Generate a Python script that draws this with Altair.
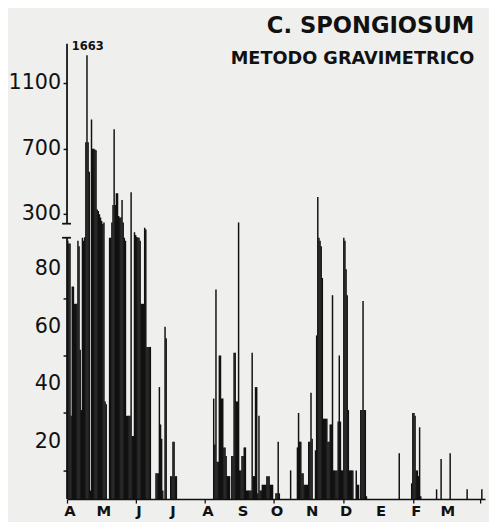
import altair as alt
import pandas as pd

# daily values (day 0 = 1 April)
april = [90, 89, 89, 29, 74, 74, 68, 68, 68, 90, 88, 52, 31, 92, 90, 96, 740, 1663, 740, 560,
         3, 878, 700, 700, 695, 690, 330, 320, 300, 280]
may = [260, 240, 250, 34, 33, 0, 0, 92, 92, 250, 357, 818, 357, 429, 429, 290, 280, 280, 387, 250,
       92, 90, 29, 29, 29, 29, 435, 22, 22, 150, 120]
june = [100, 95, 92, 90, 68, 68, 68, 200, 180, 53, 53, 53, 53, 0, 0, 0, 0, 9, 9, 9,
        39, 26, 21, 3, 0, 60, 56, 0, 0, 0]
july = [8, 8, 20, 20, 8, 8, 0, 0, 0, 0, 0, 0, 0, 0, 0, 0, 0, 0, 0, 0,
        0, 0, 0, 0, 0, 0, 0, 0, 0, 0, 0]
august = [0, 0, 0, 0, 0, 0, 0, 35, 19, 73, 13, 13, 50, 50, 35, 35, 18, 18, 15, 8,
          8, 8, 0, 15, 15, 51, 51, 34, 34, 250, 10]
september = [10, 15, 15, 18, 18, 3, 3, 3, 3, 3, 51, 8, 8, 39, 39, 2, 29, 3, 3, 5,
             5, 5, 5, 8, 8, 8, 5, 5, 5, 0]
october = [0, 2, 2, 20, 2, 0, 0, 0, 0, 0, 0, 0, 0, 0, 10, 0, 0, 0, 0, 0,
           18, 30, 20, 20, 9, 9, 5, 5, 5, 5, 20]
november = [20, 37, 21, 0, 0, 17, 57, 405, 92, 90, 88, 77, 28, 28, 28, 28, 20, 20, 26, 26,
            71, 10, 10, 10, 10, 27, 50, 27, 10, 10]
december = [92, 90, 80, 71, 31, 10, 10, 10, 10, 0, 0, 10, 5, 5, 0, 31, 31, 69, 31, 31,
            1, 0, 0, 0, 0, 0, 0, 0, 0, 0, 0]
january = [0, 0, 0, 0, 0, 0, 0, 0, 0, 0, 0, 0, 0, 0, 0, 0, 0, 0, 16, 0,
           0, 0, 0, 0, 0, 0, 0, 0, 0, 5.5, 30]
february = [30, 29, 10, 10, 8, 25, 1, 0, 0, 0, 0, 0, 0, 0, 0, 0, 0, 0, 0, 0,
            3.4, 0, 0, 0, 14, 0, 0, 0]
march = [0, 0, 0, 0, 16, 0, 0, 0, 0, 0, 0, 0, 0, 0, 0, 0, 0, 0, 0, 3.4,
         0, 0, 0, 0, 0, 0, 0, 0, 0, 0, 0]
april_next = [0, 3.4]

month_starts = [0, 30, 61, 91, 122, 153, 183, 214, 244, 275, 306, 334, 365]
month_letters = ["A", "M", "J", "J", "A", "S", "O", "N", "D", "E", "F", "M"]
major_ticks = [20, 40, 60, 80, 300, 700, 1100]
all_ticks = [10, 20, 30, 40, 50, 60, 70, 80, 300, 500, 700, 900, 1100]

series = [april, may, june, july, august, september, october, november, december,
          january, february, march, april_next]
rows = []
for start, vals in zip(month_starts, series):
    for i, v in enumerate(vals):
        if v > 0:
            rows.append({"day": start + i, "value": v})
df = pd.DataFrame(rows)

INK = "#111111"
CAP = 1270
H = 463

x_scale = alt.Scale(domain=[0, 369.5], nice=False, zero=False)
y_scale = alt.Scale(domain=[0, 91, 243, 1340], range=[H, 197.3, 183, 0], nice=False, zero=False)

x_axis = alt.Axis(values=month_starts, labels=False, title=None, grid=False, tickSize=4,
                  tickColor=INK, tickWidth=1.3, domainColor=INK, domainWidth=1.5)
y_axis = alt.Axis(values=all_ticks, labels=False, title=None, grid=False, domain=False,
                  tickSize=4, tickColor=INK, tickWidth=1.5)

bars = alt.Chart(df).transform_calculate(
    d2="datum.day + 1.3", shown="min(datum.value, %d)" % CAP
).mark_rect(color=INK, strokeWidth=0).encode(
    x=alt.X("day:Q", scale=x_scale, axis=x_axis),
    x2="d2:Q",
    y=alt.Y("shown:Q", scale=y_scale, axis=y_axis),
    y2=alt.datum(0),
)

peak = alt.Chart(df).transform_filter("datum.value > %d" % CAP).transform_calculate(
    shown="min(datum.value, %d)" % CAP, xc="datum.day + 0.5", lbl="toString(datum.value)"
).mark_text(font="DejaVu Sans Condensed", fontWeight="bold", fontSize=13, baseline="bottom",
            dy=-2, dx=1, color=INK).encode(
    x=alt.X("xc:Q", title=None), y=alt.Y("shown:Q", title=None), text="lbl:N"
)

ylab_df = pd.DataFrame({"v": major_ticks, "t": [str(v) for v in major_ticks]})
ylabels = alt.Chart(ylab_df).mark_text(font="DejaVu Sans", fontSize=21, align="right",
                                        baseline="middle", dx=-6, color=INK).encode(
    x=alt.value(0), y=alt.Y("v:Q", title=None), text="t:N")

xlab_df = pd.DataFrame({"day": month_starts[:12], "m": month_letters})
xlabels = alt.Chart(xlab_df).mark_text(font="DejaVu Sans", fontWeight="bold", fontSize=15,
                                        align="center", baseline="alphabetic", dx=3,
                                        color=INK).encode(
    x=alt.X("day:Q", title=None), y=alt.value(H + 17), text="m:N")

one = pd.DataFrame({"k": [0]})
axis_low = alt.Chart(one).mark_rule(color=INK, strokeWidth=1.8).encode(
    x=alt.value(0), y=alt.datum(0), y2=alt.datum(91))
axis_high = alt.Chart(one).mark_rule(color=INK, strokeWidth=1.8).encode(
    x=alt.value(0), y=alt.datum(243), y2=alt.datum(1340))
cap_low = alt.Chart(one).mark_rule(color=INK, strokeWidth=1.8).encode(
    x=alt.value(-5), x2=alt.value(4), y=alt.datum(91))
cap_high = alt.Chart(one).mark_rule(color=INK, strokeWidth=1.8).encode(
    x=alt.value(-5), x2=alt.value(4), y=alt.datum(243))

title = alt.Chart(one).mark_text(text="C. SPONGIOSUM", font="DejaVu Sans", fontWeight="bold",
                                 fontSize=23, align="right", baseline="alphabetic", color=INK).encode(
    x=alt.value(414), y=alt.value(-11))
subtitle = alt.Chart(one).mark_text(text="METODO GRAVIMETRICO", font="DejaVu Sans", fontWeight="bold",
                                    fontSize=18, align="right", baseline="alphabetic", color=INK).encode(
    x=alt.value(414), y=alt.value(21))

chart = alt.layer(bars, peak, ylabels, xlabels, axis_low, axis_high, cap_low, cap_high,
                  title, subtitle).properties(
    width=425, height=H,
    autosize=alt.AutoSizeParams(type="none"),
    padding={"left": 60, "top": 32, "right": 4, "bottom": 19},
).configure(background="#efefed").configure_view(stroke=None)

chart.save("out.html", embed_options={"renderer": "svg", "actions": False})
